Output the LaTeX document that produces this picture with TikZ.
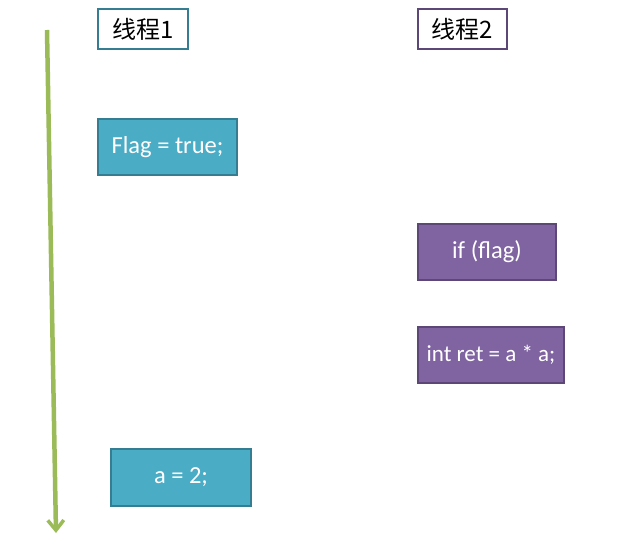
\documentclass[tikz,border=0pt]{standalone}
\usepackage{fontspec}
\setmainfont{Carlito}
\newfontfamily\cjkfont{Noto Sans CJK SC}
\usetikzlibrary{arrows.meta,positioning}
\tikzset{
  >=Stealth,
  every node/.append style={font=\fontsize{24.5}{28}\selectfont},
}
\tikzset{
  stmt/.style={draw, line width=2.5pt, inner sep=0pt, text=white, align=center},
  head/.style={draw, line width=2.5pt, fill=white, inner sep=0pt, align=center},
  timeline/.style={-{Straight Barb[length=10pt,width=16pt,line width=3.5pt]}, line width=4.5pt}
}

\begin{document}
\begin{tikzpicture}[x=1pt, y=-1pt]
\definecolor{threadone}{RGB}{75,172,198}
\definecolor{threadoneline}{RGB}{53,125,145}
\definecolor{threadtwo}{RGB}{128,100,162}
\definecolor{threadtwoline}{RGB}{92,71,118}
\definecolor{timegreen}{RGB}{155,187,89}

\useasboundingbox (0,0) rectangle (624,536);

% thread headers
\node[head, draw=threadoneline, minimum width=90pt, minimum height=40pt, font=\fontsize{24}{28}\selectfont\cjkfont] (t1) at (143,29) {线程1};
\node[head, draw=threadtwoline, minimum width=89pt, minimum height=40pt, font=\fontsize{24}{28}\selectfont\cjkfont] (t2) at (462.5,29) {线程2};

% statements
\node[stmt, fill=threadone, draw=threadoneline, minimum width=139pt, minimum height=56pt] (flag) at (167.5,147) {Flag = true;};
\node[stmt, fill=threadtwo, draw=threadtwoline, minimum width=138pt, minimum height=56pt] (check) at (487,252) {if (flag)};
\node[stmt, fill=threadtwo, draw=threadtwoline, minimum width=146pt, minimum height=56pt, font=\fontsize{23}{26}\selectfont] (ret) at (491,355) {int ret = a * a;};
\node[stmt, fill=threadone, draw=threadoneline, minimum width=140pt, minimum height=57pt] (seta) at (181,477.5) {a = 2;};

% time axis
\coordinate (tstart) at (47,30);
\coordinate (tend) at (56,533);
\draw[timeline, timegreen] (tstart) -- (tend);
\end{tikzpicture}
\end{document}
